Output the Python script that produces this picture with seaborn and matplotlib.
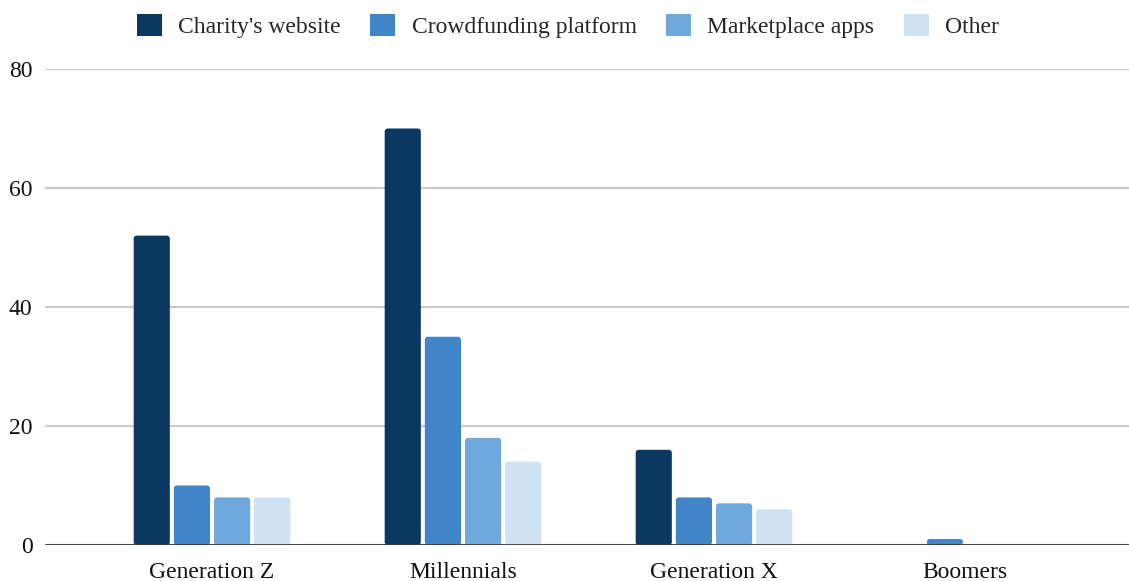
import matplotlib
matplotlib.use("Agg")
import matplotlib.pyplot as plt
from matplotlib.patches import FancyBboxPatch, Patch
import pandas as pd
import seaborn as sns

# Donation channels by generation (share of respondents, %)
generations = ["Generation Z", "Millennials", "Generation X", "Boomers"]
channels = ["Charity's website", "Crowdfunding platform", "Marketplace apps", "Other"]
charity_website = [52, 70, 16, 0]
crowdfunding = [10, 35, 8, 1]
marketplace_apps = [8, 18, 7, 0]
other = [8, 14, 6, 0]
y_ticks = [0, 20, 40, 60, 80]

colors = ["#0b3861", "#3f85c8", "#6fa8dc", "#cfe2f3"]

rows = []
for ch, vals in zip(channels, [charity_website, crowdfunding, marketplace_apps, other]):
    for g, v in zip(generations, vals):
        rows.append({"generation": g, "channel": ch, "value": v})
df = pd.DataFrame(rows)

sns.set_theme(style="white")
plt.rcParams["font.family"] = ["Liberation Serif", "DejaVu Serif"]

W, H = 1129, 581
fig = plt.figure(figsize=(W / 100, H / 100), dpi=100)
ax = fig.add_axes([45 / W, (H - 545) / H, (W - 45) / W, (545 - 69) / H])

sns.barplot(data=df, x="generation", y="value", hue="channel",
            order=generations, hue_order=channels, palette=colors,
            width=0.64, gap=0.1, saturation=1, legend=False, ax=ax,
            errorbar=None, zorder=3)

# Swap the plain rectangles for slightly rounded ones
px_x = 1 / 251.0
px_y = 80 / 476.0
for p in list(ax.patches):
    x, y = p.get_x(), p.get_y()
    w, h = p.get_width(), p.get_height()
    fc = p.get_facecolor()
    p.remove()
    if h <= 0:
        continue
    rb = FancyBboxPatch((x, y), w, h,
                        boxstyle=f"round,pad=0,rounding_size={3 * px_x}",
                        mutation_aspect=px_y / px_x,
                        facecolor=fc, edgecolor="none", zorder=3)
    ax.add_patch(rb)

ax.set_xlim(-(212 - 45) / 251, (1129 - 212) / 251)
ax.set_ylim(0, 80)
ax.set_yticks(y_ticks)
ax.yaxis.grid(True, color="#cccccc", linewidth=1.6, zorder=0)
ax.set_axisbelow(True)
ax.axhline(0, color="#3a3a3a", linewidth=2, zorder=4)

for s in ax.spines.values():
    s.set_visible(False)
ax.set_xlabel("")
ax.set_ylabel("")
ax.tick_params(axis="both", length=0, labelsize=17, colors="#111111")
ax.tick_params(axis="y", pad=9)
ax.tick_params(axis="x", pad=12)

handles = [Patch(facecolor=c, edgecolor="none") for c in colors]
fig.legend(handles, channels, loc="center", bbox_to_anchor=(0.503, 1 - 26 / H),
           ncol=4, frameon=False, fontsize=17, handlelength=1.05, handleheight=1.05,
           handletextpad=0.7, columnspacing=1.25)

fig.savefig("out.png", dpi=100, facecolor="white")
